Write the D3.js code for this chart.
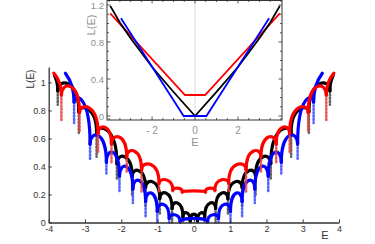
<!DOCTYPE html>
<html><head><meta charset="utf-8">
<script src="https://cdn.jsdelivr.net/npm/d3@7"></script>
<style>html,body{margin:0;padding:0;background:#fff;}svg{display:block;font-family:"Liberation Sans",Arial,sans-serif;}</style>
</head><body>
<svg id="c" width="375" height="244"></svg>
<script>
// ---------- main plot data ----------
const xTicks = [-4,-3,-2,-1,0,1,2,3,4];
const yTicks = [0,0.2,0.4,0.6,0.8,1];

const redCuspE = [-3.65,-3.15,-2.64,-2.27,-1.85,-1.44,-0.96,-0.58,-0.32,0.32,0.58,0.96,1.44,1.85,2.27,2.64,3.15,3.65];
const redCuspL = [0.91,0.785,0.635,0.56,0.47,0.375,0.28,0.232,0.22,0.22,0.232,0.28,0.375,0.47,0.56,0.635,0.785,0.91];
const redPeakL = [0.97,0.82,0.68,0.61,0.51,0.415,0.305,0.245,0.226,0.245,0.305,0.415,0.51,0.61,0.68,0.82,0.97];
const redDipL  = [0.72,0.64,0.505,0.42,0.36,0.22,0.21,0.21,0.205,0.205,0.21,0.21,0.22,0.36,0.42,0.505,0.64,0.72];
const redEnds  = [[-3.86,1.066],[3.86,1.066]];

const blackCuspE = [-3.75,-3.17,-2.68,-2.12,-1.70,-1.33,-0.94,-0.60,-0.30,-0.10,0.10,0.30,0.60,0.94,1.33,1.70,2.12,2.68,3.17,3.75];
const blackCuspL = [0.94,0.79,0.64,0.42,0.33,0.25,0.17,0.10,0.04,0.01,0.01,0.04,0.10,0.17,0.25,0.33,0.42,0.64,0.79,0.94];
const blackPeakL = [0.99,0.81,0.66,0.47,0.37,0.29,0.21,0.14,0.07,0.06,0.07,0.14,0.21,0.29,0.37,0.47,0.66,0.81,0.99];
const blackDipL  = [0.84,0.64,0.47,0.30,0.20,0.12,0.05,0.0,0.0,0.0,0.0,0.0,0.0,0.05,0.12,0.20,0.30,0.47,0.64,0.84];
const blackEnds  = [[-3.84,1.05],[3.84,1.05]];

const blueCuspE = [-3.3,-2.86,-2.41,-2.05,-1.68,-1.33,-1.01,-0.68,-0.38,0.38,0.68,1.01,1.33,1.68,2.05,2.41,2.86,3.3];
const blueCuspL = [0.86,0.56,0.43,0.33,0.24,0.15,0.08,0.03,0.005,0.005,0.03,0.08,0.15,0.24,0.33,0.43,0.56,0.86];
const bluePeakL = [0.87,0.62,0.50,0.40,0.30,0.21,0.13,0.055,0.03,0.055,0.13,0.21,0.30,0.40,0.50,0.62,0.87];
const blueDipL  = [0.71,0.45,0.35,0.21,0.14,0.04,0.0,0.0,0.0,0.0,0.0,0.0,0.04,0.14,0.21,0.35,0.45,0.71];
const blueEnds  = [[-3.54,1.066],[3.54,1.066]];

// ---------- inset data ----------
const insetBlack = [[-3.95,1.19],[-3.5,1.01],[-3.05,0.857],[-2,0.53],[-1,0.26],[0,0],[1,0.26],[2,0.53],[3.05,0.857],[3.5,1.01],[3.95,1.19]];
const insetRed   = [[-3.95,1.11],[-0.47,0.227],[0.47,0.227],[3.95,1.11]];
const insetBlue  = [[-3.45,1.056],[-0.53,0],[0.53,0],[3.45,1.056]];
const insetXMajor = [-2,0,2];
const insetXLabels = ["- 2","0","2"];
const insetXMinor = [-4,-3.5,-3,-2.5,-2,-1.5,-1,-0.5,0,0.5,1,1.5,2,2.5,3,3.5,4];
const insetYMajor = [0,0.4,0.8,1.2];
const insetYMinor = [0,0.1,0.2,0.3,0.4,0.5,0.6,0.7,0.8,0.9,1.0,1.1,1.2];

const svg = d3.select("#c");
const x = d3.scaleLinear().domain([-4,4]).range([48.7,339]);
const y = d3.scaleLinear().domain([0,1.11]).range([222.5,67]);

function drawSeries(cE,cL,pL,dL,ends,col,dipCol){
  const g = svg.append("g");
  // dips: dense column near the cusp, sparser dotted tail
  g.selectAll("line.dip").data(cE).join("line")
    .attr("x1",(d)=>x(d)).attr("x2",(d)=>x(d))
    .attr("y1",(d,i)=>y(cL[i])).attr("y2",(d,i)=>y(dL[i]))
    .attr("stroke",dipCol).attr("stroke-width",2.6).attr("opacity",0.85)
    .attr("stroke-dasharray","1.2,2.2").attr("stroke-linecap","round");
  const paths = [];
  for(let i=0;i<cE.length-1;i++){
    const x0=x(cE[i]), y0=y(cL[i]), x3=x(cE[i+1]), y3=y(cL[i+1]), yp=y(pL[i]);
    const yc=(yp-(y0+y3)/8)/0.75;
    paths.push(`M${x0},${y0}C${x0},${yc} ${x3},${yc} ${x3},${y3}`);
  }
  const ec = [[ends[0],[cE[0],cL[0]]],[ends[1],[cE[cE.length-1],cL[cL.length-1]]]];
  ec.forEach(([e,c])=>{
    const xe=x(e[0]), ye=y(e[1]), xc=x(c[0]), ycc=y(c[1]);
    paths.push(`M${xe},${ye}C${xe+0.5*(xc-xe)},${ye+0.2*(ycc-ye)} ${xc},${ye+0.5*(ycc-ye)} ${xc},${ycc}`);
  });
  g.selectAll("path.arc").data(paths).join("path")
    .attr("d",d=>d).attr("fill","none").attr("stroke",col)
    .attr("stroke-width",3.2).attr("stroke-linecap","round");
}
drawSeries(blackCuspE,blackCuspL,blackPeakL,blackDipL,blackEnds,"#000","#4a4a40");
drawSeries(blueCuspE,blueCuspL,bluePeakL,blueDipL,blueEnds,"#0000ff","#3a4cff");
drawSeries(redCuspE,redCuspL,redPeakL,redDipL,redEnds,"#ff0000","#e84040");

// main axes
const ax = svg.append("g").attr("transform","translate(0,222.5)")
  .call(d3.axisBottom(x).tickValues(xTicks).tickSizeInner(-3).tickSizeOuter(0).tickPadding(3).tickFormat(d=>String(d)));
const ay = svg.append("g").attr("transform","translate(48.7,0)")
  .call(d3.axisLeft(y).tickValues(yTicks).tickSizeInner(-3).tickSizeOuter(0).tickPadding(3).tickFormat(d=>String(d)));
[ax,ay].forEach(a=>{
  a.select(".domain").attr("stroke","#333").attr("stroke-width",1.3);
  a.selectAll(".tick line").attr("stroke","#333").attr("stroke-width",1);
  a.selectAll(".tick text").attr("fill","#333").attr("font-size",9).attr("font-family","Liberation Sans, Arial, sans-serif");
});
svg.append("text").attr("x",325).attr("y",239).attr("text-anchor","middle").attr("font-size",11).attr("fill","#333").text("E");
svg.append("text").attr("transform","translate(34,79) rotate(-90)").attr("text-anchor","middle").attr("font-size",10).attr("fill","#333").text("L(E)");

// ---------- inset ----------
const ix = d3.scaleLinear().domain([-4.1,4.05]).range([107,282]);
const iy = d3.scaleLinear().domain([-0.043,1.254]).range([120,0]);
const ig = svg.append("g");
ig.append("rect").attr("x",ix.range()[0]).attr("y",0.5).attr("width",ix.range()[1]-ix.range()[0]).attr("height",119.5)
  .attr("fill","#fff").attr("stroke","none");
ig.append("line").attr("x1",ix(0)).attr("x2",ix(0)).attr("y1",0).attr("y2",120).attr("stroke","#ddd").attr("stroke-width",1);
const iline = d3.line().x(d=>ix(d[0])).y(d=>iy(d[1]));
[[insetRed,"#ff0000"],[insetBlack,"#000"],[insetBlue,"#0000ff"]].forEach(([d,c])=>{
  ig.append("path").attr("d",iline(d)).attr("fill","none").attr("stroke",c).attr("stroke-width",1.8);
});
ig.append("rect").attr("x",ix.range()[0]).attr("y",0.5).attr("width",ix.range()[1]-ix.range()[0]).attr("height",119.5)
  .attr("fill","none").attr("stroke","#333").attr("stroke-width",1);
// ticks
const tk = ig.append("g").attr("stroke","#333").attr("stroke-width",0.8);
insetXMinor.forEach(v=>{
  const L = insetXMajor.includes(v)?3.5:2;
  tk.append("line").attr("x1",ix(v)).attr("x2",ix(v)).attr("y1",120).attr("y2",120-L);
  tk.append("line").attr("x1",ix(v)).attr("x2",ix(v)).attr("y1",0).attr("y2",L);
});
insetYMinor.forEach(v=>{
  const L = insetYMajor.includes(v)?3.5:2;
  tk.append("line").attr("x1",107).attr("x2",107+L).attr("y1",iy(v)).attr("y2",iy(v));
  tk.append("line").attr("x1",282).attr("x2",282-L).attr("y1",iy(v)).attr("y2",iy(v));
});
ig.selectAll("text.ixl").data(insetXMajor).join("text")
  .attr("x",d=>ix(d)).attr("y",134).attr("text-anchor","middle").attr("font-size",10).attr("fill","#909090")
  .text((d,i)=>insetXLabels[i]);
ig.selectAll("text.iyl").data(insetYMajor).join("text")
  .attr("x",104).attr("y",d=>iy(d)+3.5).attr("text-anchor","end").attr("font-size",9.5).attr("fill","#909090")
  .text(d=>String(d));
ig.append("text").attr("x",ix(0)).attr("y",146).attr("text-anchor","middle").attr("font-size",11).attr("fill","#909090").text("E");
ig.append("text").attr("transform","translate(95,25) rotate(-90)").attr("text-anchor","middle").attr("font-size",11).attr("fill","#909090").text("L(E)");
</script>
</body></html>
